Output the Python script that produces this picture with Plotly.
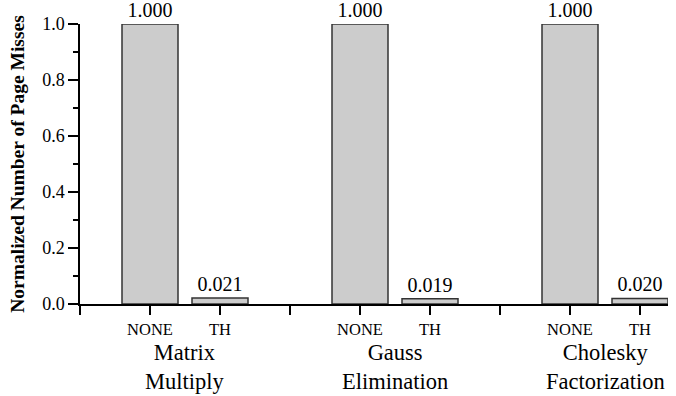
import plotly.graph_objects as go

groups = ["Matrix<br>Multiply", "Gauss<br>Elimination", "Cholesky<br>Factorization"]
schemes = ["NONE", "TH"]
values = [[1.000, 0.021], [1.000, 0.019], [1.000, 0.020]]
value_labels = [["1.000", "0.021"], ["1.000", "0.019"], ["1.000", "0.020"]]

FONT = "Liberation Serif, Times New Roman, serif"

xs, ys, txt = [], [], []
tickvals, ticktext = [0], [""]
for g, grp in enumerate(groups):
    for s, sch in enumerate(schemes):
        pos = 1 + 3 * g + s
        xs.append(pos)
        ys.append(values[g][s])
        txt.append(value_labels[g][s])
        tickvals.append(pos)
        ticktext.append(sch)
    tickvals.append(3 + 3 * g)
    ticktext.append("")

fig = go.Figure(go.Bar(
    x=xs, y=ys, text=txt, textposition="outside", cliponaxis=False,
    width=0.8,
    marker=dict(color="#cccccc", line=dict(color="#333333", width=1.5)),
    textfont=dict(family=FONT, size=20, color="black"),
))

for g, grp in enumerate(groups):
    fig.add_annotation(x=1.5 + 3 * g, y=-0.121, xref="x", yref="paper",
                       text=grp, showarrow=False, yanchor="top",
                       font=dict(family=FONT, size=22.5, color="black"))

fig.update_layout(
    width=676, height=396,
    margin=dict(l=80, r=8, t=24, b=92, autoexpand=False),
    plot_bgcolor="white", paper_bgcolor="white",
    showlegend=False,
    font=dict(family=FONT, color="black"),
    xaxis=dict(range=[0, 8.4], tickvals=tickvals, ticktext=ticktext,
               ticks="outside", ticklen=9, tickwidth=1.5, tickcolor="black",
               showline=True, linecolor="black", linewidth=1.5,
               showgrid=False, zeroline=False,
               tickfont=dict(family=FONT, size=16.5, color="black")),
    yaxis=dict(range=[0, 1.0], tickvals=[0, 0.2, 0.4, 0.6, 0.8, 1.0],
               tickformat=".1f",
               ticks="outside", ticklen=10, tickwidth=1.5, tickcolor="black",
               minor=dict(tickvals=[0.1, 0.3, 0.5, 0.7, 0.9], ticks="outside",
                          ticklen=5, tickwidth=1.5, tickcolor="black"),
               showline=True, linecolor="black", linewidth=1.5,
               showgrid=False, zeroline=False,
               tickfont=dict(family=FONT, size=18, color="black"),
               title=dict(text="<b>Normalized Number of Page Misses</b>",
                          font=dict(family=FONT, size=19.5, color="black"),
                          standoff=12)),
)

fig.write_html("out.html",
               config={"displayModeBar": False},
               post_script="document.body.style.margin='0';"
                           "document.body.style.overflow='hidden';")
